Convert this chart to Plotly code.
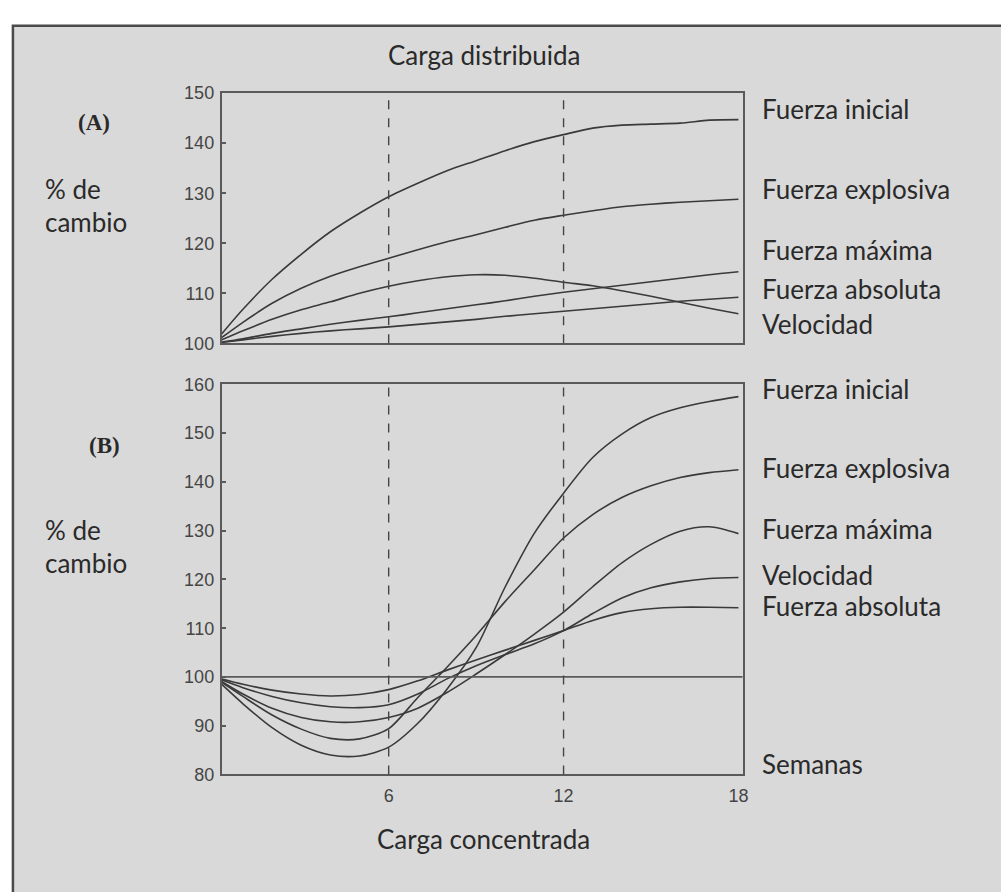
import plotly.graph_objects as go

# Semanas de entrenamiento
weeks = list(range(0, 19))

# (A) Carga distribuida: % de cambio por semana
a_fuerza_inicial = [100, 106.8, 112.8, 117.8, 122.3, 126, 129.3, 132, 134.5, 136.5, 138.5,
                    140.3, 141.7, 143, 143.6, 143.8, 144, 144.6, 144.7]
a_fuerza_explosiva = [100, 104.2, 108, 111, 113.4, 115.3, 117, 118.7, 120.3, 121.7, 123.2,
                      124.6, 125.6, 126.5, 127.3, 127.8, 128.2, 128.5, 128.8]
a_fuerza_maxima = [100, 102.5, 104.8, 106.7, 108.3, 110, 111.4, 112.5, 113.3, 113.7, 113.6,
                   113, 112.2, 111.5, 110.5, 109.4, 108.2, 107, 105.9]
a_fuerza_absoluta = [100, 100.9, 102, 102.9, 103.8, 104.6, 105.3, 106.1, 106.9, 107.7, 108.5,
                     109.4, 110.2, 110.9, 111.6, 112.3, 113, 113.7, 114.3]
a_velocidad = [100, 100.7, 101.4, 102, 102.5, 102.9, 103.3, 103.8, 104.3, 104.8, 105.4,
               105.9, 106.4, 106.9, 107.4, 107.9, 108.4, 108.8, 109.2]

# (B) Carga concentrada: % de cambio por semana
b_fuerza_inicial = [100, 94.5, 89.6, 86, 84, 83.8, 85.6, 90.5, 97.5, 106, 118.5,
                    129.5, 137.7, 145, 149.8, 153.2, 155.2, 156.5, 157.5]
b_fuerza_explosiva = [100, 96, 92.2, 89.3, 87.4, 87.3, 89.4, 95.8, 102, 108.5, 115.5,
                      122, 128.5, 133.3, 136.8, 139.2, 140.9, 141.9, 142.5]
b_fuerza_maxima = [100, 96.5, 93.6, 91.7, 90.8, 90.8, 91.7, 93.6, 96.8, 100.6, 104.6,
                   108.8, 113.3, 118.5, 123.4, 127.2, 129.9, 130.8, 129.4]
b_velocidad = [100, 97.8, 96, 94.7, 93.9, 93.7, 94.3, 96.5, 99.6, 102.3, 104.6,
               106.8, 109.5, 113, 116.2, 118.3, 119.5, 120.2, 120.4]
b_fuerza_absoluta = [100, 98.5, 97.3, 96.5, 96.1, 96.4, 97.4, 99.2, 101.4, 103.5, 105.5,
                     107.5, 109.5, 111.6, 113.2, 114, 114.3, 114.3, 114.2]

# Etiquetas a la derecha de cada panel: (texto, posición vertical en px)
labels_a = [("Fuerza inicial", 103), ("Fuerza explosiva", 185), ("Fuerza máxima", 248),
            ("Fuerza absoluta", 287), ("Velocidad", 323)]
labels_b = [("Fuerza inicial", 390), ("Fuerza explosiva", 470), ("Fuerza máxima", 533),
            ("Velocidad", 580), ("Fuerza absoluta", 612), ("Semanas", 773)]

ticks_a = [100, 110, 120, 130, 140, 150]
ticks_b = [80, 90, 100, 110, 120, 130, 140, 150, 160]
ticks_x = [6, 12, 18]
phase_marks = [6, 12]

W, H = 1001, 892
LINE = "#3a3a3a"
AXIS = "#5a5a5a"
TEXT = "#2a2a2a"
PANEL = "#d9d9d9"
LABEL_FONT = "Lato"
LABEL_SIZE = 26
TEXT_SHIFT = -2  # compensación vertical del cuadro de texto


def px_x(x):
    return x / W


def px_y(y):
    return 1 - y / H


fig = go.Figure()

for ys in [a_fuerza_inicial, a_fuerza_explosiva, a_fuerza_maxima, a_fuerza_absoluta, a_velocidad]:
    fig.add_trace(go.Scatter(x=weeks, y=ys, mode="lines", xaxis="x", yaxis="y",
                             line=dict(color=LINE, width=1.6, shape="spline", smoothing=0.8),
                             showlegend=False, hoverinfo="skip"))

for ys in [b_fuerza_inicial, b_fuerza_explosiva, b_fuerza_maxima, b_velocidad, b_fuerza_absoluta]:
    fig.add_trace(go.Scatter(x=weeks, y=ys, mode="lines", xaxis="x2", yaxis="y2",
                             line=dict(color=LINE, width=1.6, shape="spline", smoothing=0.8),
                             showlegend=False, hoverinfo="skip"))

# línea de referencia 100 % en el panel B
fig.add_trace(go.Scatter(x=[weeks[0], weeks[-1] + 1], y=[100, 100], mode="lines",
                         xaxis="x2", yaxis="y2", line=dict(color=AXIS, width=1.8),
                         showlegend=False, hoverinfo="skip"))

x_dom = [px_x(223), px_x(747)]
x_rng = [0.27, 18.14]
tick_font = dict(family="Liberation Sans", size=18, color="#454545")
common_y = dict(showgrid=False, zeroline=False, ticks="inside", ticklen=4, tickwidth=1.5,
                tickcolor=AXIS, showline=True, linecolor=AXIS, linewidth=1.8, mirror=True,
                tickfont=tick_font, ticklabelstandoff=2)
common_x = dict(showgrid=False, zeroline=False, showline=True, linecolor=AXIS,
                linewidth=1.8, mirror=True, range=x_rng, domain=x_dom)

fig.update_layout(
    width=W, height=H,
    margin=dict(l=0, r=0, t=0, b=0),
    paper_bgcolor="white",
    plot_bgcolor="white",
    xaxis=dict(**common_x, anchor="y", showticklabels=False, ticks=""),
    yaxis=dict(**common_y, domain=[px_y(341), px_y(85)], range=[100, 150],
               tickvals=ticks_a, anchor="x"),
    xaxis2=dict(**common_x, anchor="y2", tickvals=ticks_x, ticks="",
                tickfont=tick_font, ticklabelstandoff=4),
    yaxis2=dict(**common_y, domain=[px_y(782), px_y(383)], range=[80, 160],
                tickvals=ticks_b, anchor="x2"),
)

shapes = [
    # recuadro gris de la figura
    dict(type="rect", xref="paper", yref="paper", x0=px_x(13), x1=1.02,
         y0=-0.02, y1=px_y(16), fillcolor=PANEL, line=dict(color="#4a4a4a", width=2.5),
         layer="below"),
]
for xa, ya in [("x", "y"), ("x2", "y2")]:
    for wk in phase_marks:
        shapes.append(dict(type="line", xref=xa, yref=f"{ya} domain", x0=wk, x1=wk,
                           y0=0, y1=1, line=dict(color="#444444", width=1.4, dash="dash")))
fig.update_layout(shapes=shapes)

annotations = []


def add_text(text, x, y, size=LABEL_SIZE, family=LABEL_FONT, xanchor="left", color=TEXT):
    annotations.append(dict(text=text, x=px_x(x), y=px_y(y + TEXT_SHIFT), xref="paper",
                            yref="paper", xanchor=xanchor, yanchor="middle", showarrow=False,
                            font=dict(family=family, size=size, color=color)))


for t, y in labels_a:
    add_text(t, 765, y)
for t, y in labels_b:
    add_text(t, 765, y)

add_text("Carga distribuida", 487, 48, xanchor="center")
add_text("Carga concentrada", 486, 850, xanchor="center")
add_text("<b>(A)</b>", 95, 117, size=23, family="Liberation Serif", xanchor="center")
add_text("<b>(B)</b>", 105, 447, size=23, family="Liberation Serif", xanchor="center")
for y0 in (185, 534):
    add_text("% de", 43, y0)
    add_text("cambio", 43, y0 + 34)

fig.update_layout(annotations=annotations)

fig.write_html("out.html")
